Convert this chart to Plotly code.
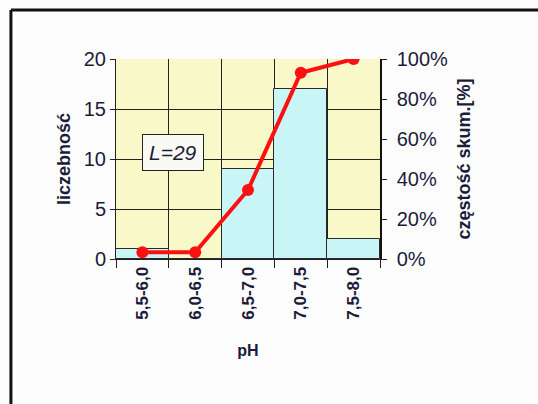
import plotly.graph_objects as go

# data
ph_classes = ["5,5-6,0", "6,0-6,5", "6,5-7,0", "7,0-7,5", "7,5-8,0"]
counts = [1, 0, 9, 17, 2]
cum_pct = [0.034, 0.034, 0.345, 0.931, 1.0]

txt_col = "#1b1b3a"
fnt = "Liberation Sans, Arial, sans-serif"

fig = go.Figure()
fig.add_trace(go.Bar(
    x=ph_classes, y=counts,
    marker=dict(color="#c9f5f7", line=dict(color="#2a2a2a", width=1)),
    showlegend=False))
fig.add_trace(go.Scatter(
    x=ph_classes, y=cum_pct, yaxis="y2", mode="lines+markers",
    line=dict(color="#ff1010", width=4),
    marker=dict(color="#ff1010", size=12),
    showlegend=False))

fig.update_layout(
    width=538, height=404,
    margin=dict(l=116, r=158, t=59, b=145, autoexpand=False),
    paper_bgcolor="#fdfdfd",
    plot_bgcolor="#f8f8c9",
    bargap=0,
    font=dict(family=fnt, color=txt_col),
    xaxis=dict(
        tickson="boundaries", ticks="outside", ticklen=8, tickcolor="#222",
        showgrid=True, gridcolor="#222", gridwidth=1,
        tickangle=-90, tickfont=dict(size=17, family=fnt, weight="bold"),
        title=dict(text="<b>pH</b>", font=dict(size=16), standoff=26),
        showline=True, linecolor="#222", linewidth=1,
    ),
    yaxis=dict(
        range=[0, 20], dtick=5, ticks="outside", ticklen=5, tickcolor="#222",
        showgrid=True, gridcolor="#222", gridwidth=1, zeroline=False,
        tickfont=dict(size=20), showline=True, linecolor="#222", linewidth=1,
        title=dict(text="<b>liczebność</b>", font=dict(size=18), standoff=8),
    ),
    yaxis2=dict(
        overlaying="y", side="right", range=[0, 1], dtick=0.2,
        tickformat=".0%", ticks="outside", ticklen=5, tickcolor="#222",
        ticklabelstandoff=6,
        showgrid=False, zeroline=False, tickfont=dict(size=20),
        showline=True, linecolor="#111", linewidth=1.5,
        title=dict(text="<b>częstość skum.[%]</b>", font=dict(size=18), standoff=10),
    ),
)

fig.add_annotation(
    x=0.215, y=0.535, xref="paper", yref="paper",
    xanchor="center", yanchor="middle",
    text="<i>L=29</i>", showarrow=False,
    font=dict(size=21, color=txt_col),
    bgcolor="#fafaf5", bordercolor="#222", borderwidth=1, borderpad=6)

# outer frame (top and left edges visible)
fig.add_shape(type="line", xref="paper", yref="paper",
              x0=-0.398, x1=1.7, y0=1.245, y1=1.245,
              line=dict(color="#111", width=3))
fig.add_shape(type="line", xref="paper", yref="paper",
              x0=-0.398, x1=-0.398, y0=1.245, y1=-0.8,
              line=dict(color="#111", width=3))

# drop the default body margin so the figure fills the window exactly
fig.write_html("out.html", config=dict(displayModeBar=False),
               post_script="document.body.style.margin='0';document.body.style.overflow='hidden';")
